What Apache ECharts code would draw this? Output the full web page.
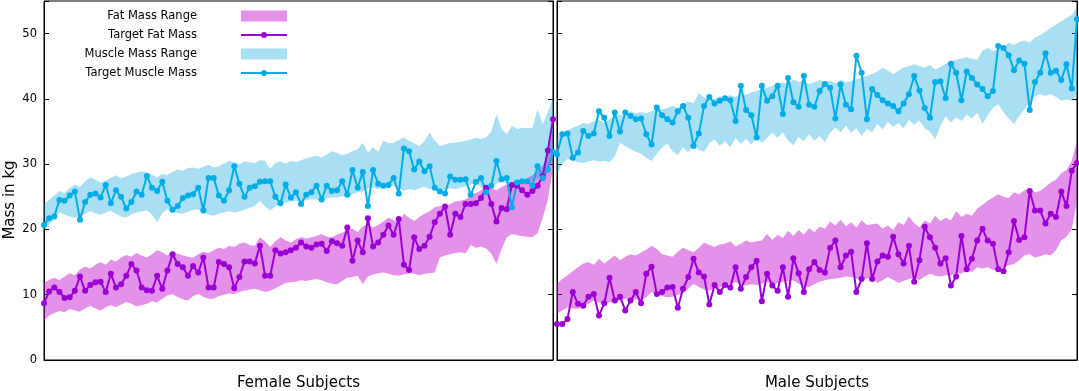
<!DOCTYPE html>
<html>
<head>
<meta charset="utf-8">
<script src="https://cdn.jsdelivr.net/npm/echarts@6/dist/echarts.min.js"></script>
<style>
html,body{margin:0;padding:0;background:#fff;}
#chart{width:1079px;height:391px;}
</style>
</head>
<body>
<div id="chart"></div>
<script>
// ---------------- DATA ----------------
const yTicks = [0, 10, 20, 30, 40, 50];

// Female subjects
const femaleFat = [8.7,10.5,11.1,10.4,9.5,9.6,10.6,12.8,10.6,11.5,11.9,12.0,10.4,13.2,11.1,11.6,12.9,14.7,13.7,11.1,10.7,
10.6,12.9,10.9,13.7,16.2,14.7,14.2,12.9,14.4,13.4,15.7,11.1,11.1,15.0,14.7,14.2,11.0,12.7,15.1,15.1,14.8,
17.5,12.9,12.9,16.8,16.3,16.5,16.8,17.2,18.0,17.4,17.2,17.7,17.8,16.7,18.2,17.9,17.5,20.3,15.2,18.3,
16.5,21.7,17.4,18.0,19.2,20.6,19.2,21.6,14.6,13.8,18.8,17.0,17.5,18.9,21.1,22.4,23.5,19.2,22.4,21.9,23.9,
23.9,24.0,24.8,26.4,23.9,21.2,23.3,23.1,26.8,26.7,26.0,25.3,25.9,26.7,28.2,32.1,36.9];
const femaleFatLo = [6.0,6.8,7.2,7.5,7.3,7.8,7.6,7.4,7.9,8.3,7.9,7.6,8.1,8.4,8.1,8.5,8.9,8.6,8.2,8.4,8.6,
9.0,8.8,9.4,9.9,10.1,9.6,9.3,9.1,9.8,10.1,9.7,9.4,9.4,9.8,10.0,10.2,10.1,10.4,10.6,10.8,10.9,
10.7,10.4,10.6,11.0,11.4,11.8,11.9,12.0,12.2,12.1,12.3,12.4,12.2,11.9,11.7,11.6,12.1,12.6,12.7,12.9,
11.6,12.8,13.1,13.3,13.4,13.2,13.0,12.9,13.1,13.3,13.2,13.0,13.2,13.3,13.4,15.7,16.0,16.2,16.4,16.5,16.3,
17.6,17.2,17.4,17.1,16.3,14.7,17.0,18.8,19.3,19.1,19.0,18.9,18.8,19.4,21.8,24.5,29.5];
const femaleFatHi = [11.8,12.3,12.6,12.2,12.8,13.3,13.0,13.9,14.3,14.0,14.6,15.0,14.6,15.4,15.1,15.7,16.1,15.8,16.4,16.0,15.7,
16.2,16.8,16.5,16.0,16.4,16.3,16.0,15.8,15.7,16.2,16.6,16.4,16.8,17.2,17.0,17.5,17.3,17.8,18.0,17.6,17.5,
18.8,18.2,17.3,18.2,18.8,18.3,18.0,18.5,18.8,18.6,18.8,19.0,19.3,18.9,18.8,19.2,19.5,19.9,20.1,19.6,
20.5,20.8,20.3,20.7,21.2,21.8,21.4,21.1,22.4,21.8,21.3,21.9,22.4,22.8,23.4,23.6,23.5,23.9,24.3,24.4,24.6,
25.2,25.6,26.0,26.6,26.4,26.0,26.5,26.9,27.2,27.5,27.4,27.9,28.3,29.0,29.8,31.5,35.5];
const femaleMuscle = [20.7,21.7,22.0,24.5,24.4,25.2,25.8,21.5,24.2,25.3,25.5,24.9,26.8,24.0,26.0,25.0,23.2,24.2,25.8,25.3,28.2,
26.4,25.9,27.3,24.4,23.0,23.6,24.8,25.2,25.4,26.4,22.9,27.9,27.9,25.2,24.4,26.0,29.7,27.0,25.0,26.4,26.6,
27.3,27.4,27.4,25.0,24.0,26.9,24.9,25.7,23.9,25.3,25.7,26.7,24.6,26.7,25.9,26.0,27.4,25.3,29.1,26.4,
28.8,23.6,29.1,27.0,26.7,26.8,27.9,25.5,32.4,32.0,29.2,30.4,28.9,29.7,26.4,25.8,25.5,28.1,27.6,27.6,27.7,
25.3,27.3,27.9,25.7,26.7,30.5,27.7,27.9,23.4,27.2,27.4,27.4,26.7,29.7,27.9,29.2,31.9];
const femaleMuscleLo = [19.9,20.8,21.6,22.6,22.3,22.0,21.8,21.9,22.4,22.8,22.5,22.2,22.6,22.9,22.4,22.0,21.8,22.3,22.6,22.8,22.9,
22.3,21.1,22.5,23.1,22.8,22.5,22.4,22.7,23.0,23.1,22.6,22.3,22.1,22.4,22.6,22.8,22.6,22.8,23.0,23.3,23.6,
24.4,23.5,22.9,23.5,23.9,24.1,24.3,24.4,24.2,24.5,24.6,24.6,24.4,24.8,24.9,24.9,25.1,25.0,25.4,25.7,
25.8,26.3,26.4,26.2,26.5,26.6,26.7,26.3,25.9,26.2,26.0,26.3,26.5,26.2,26.3,26.0,26.1,26.3,26.2,26.4,26.6,
26.9,27.0,26.5,25.9,26.6,27.0,27.3,27.1,27.0,27.2,27.0,27.3,27.4,27.8,28.5,29.5,31.0];
const femaleMuscleHi = [23.9,24.6,25.2,25.9,25.6,26.3,26.9,26.5,27.4,28.0,27.6,27.2,27.5,27.9,28.3,27.8,28.1,28.5,28.7,28.9,28.7,
28.4,28.0,28.5,28.3,28.8,29.2,29.0,29.4,29.5,29.3,29.6,29.9,29.5,29.7,30.1,30.5,30.3,30.0,30.4,30.3,30.2,
30.6,30.5,29.3,30.2,30.4,30.1,30.5,30.3,30.6,30.9,31.1,31.3,31.0,31.5,32.0,31.7,31.4,31.6,32.0,32.3,
33.3,31.8,32.6,31.9,33.6,33.2,33.3,33.7,34.1,33.6,33.2,32.8,33.5,34.8,33.6,32.8,33.0,33.3,33.3,33.4,33.6,
33.8,34.0,33.9,34.1,35.0,37.6,35.4,34.6,35.9,35.4,35.6,35.5,35.6,38.4,36.1,38.0,40.2];

// Male subjects
const maleFat = [5.5,5.5,6.3,10.4,8.6,8.3,9.7,10.1,6.8,8.7,12.6,9.1,9.7,7.6,9.1,10.4,8.7,13.2,14.3,10.1,10.4,
11.1,11.2,8.0,10.9,12.7,15.5,13.4,12.8,8.5,11.5,10.4,11.5,11.1,14.2,10.9,12.7,14.2,15.2,9.0,13.2,
11.4,10.6,14.2,9.7,15.6,13.3,10.4,13.9,15.0,13.8,13.4,17.2,18.3,14.2,16.0,16.6,10.4,12.4,17.9,12.4,
15.1,16.0,15.8,18.9,16.2,14.8,17.5,12.0,15.3,20.4,18.8,17.2,14.8,15.6,11.4,12.8,19.0,13.9,15.5,18.3,
20.1,18.3,17.8,13.9,13.6,16.5,21.3,18.4,18.8,25.9,22.9,22.9,20.9,22.4,21.9,25.8,23.6,29.0,30.2];
const maleFatLo = [7.1,7.6,8.1,7.9,7.8,8.3,8.6,9.1,8.8,8.5,8.9,8.8,9.2,9.4,9.0,9.3,9.1,9.6,10.4,10.0,9.8,
9.6,9.7,10.0,10.2,10.9,11.7,11.2,10.8,10.6,10.9,11.1,11.4,11.7,11.9,11.6,11.4,11.6,11.5,11.7,12.0,
11.5,11.8,12.0,12.1,12.2,11.7,11.3,11.2,11.6,12.0,12.2,12.4,12.5,12.6,12.8,12.7,12.5,12.3,12.5,12.7,
11.8,12.2,12.7,12.3,11.8,12.1,12.4,12.6,12.2,12.8,13.2,12.9,12.8,13.0,12.9,13.4,13.2,13.7,13.5,14.2,
14.0,14.2,13.8,13.7,14.2,14.5,14.7,15.3,16.0,16.2,15.7,15.9,16.2,16.0,16.8,18.3,18.9,20.0,24.4];
const maleFatHi = [11.7,12.4,13.0,13.6,14.2,14.8,15.0,14.6,15.5,14.8,15.4,16.0,15.3,15.8,16.2,16.0,16.5,16.9,17.5,17.0,16.2,
16.0,15.8,16.6,17.2,16.8,16.5,17.2,18.0,17.6,17.3,17.7,17.8,18.2,17.4,17.8,18.3,18.0,18.2,18.3,19.3,
18.4,19.2,18.7,19.8,19.0,19.9,19.2,20.2,19.6,20.4,20.1,21.2,20.6,21.5,20.5,21.1,20.3,21.4,20.7,20.8,
20.9,20.1,20.6,19.9,21.1,20.7,22.0,21.0,20.3,21.4,20.9,22.1,21.3,21.8,21.4,22.8,21.9,22.4,22.1,23.2,
23.8,24.4,24.9,25.4,25.0,24.8,25.7,25.4,26.0,26.2,25.7,25.9,26.5,27.2,27.6,28.6,29.1,30.5,33.6];
const maleMuscle = [31.5,34.6,34.7,31.0,31.8,35.1,34.3,34.7,38.1,37.1,34.3,37.9,35.0,37.9,37.4,36.9,37.0,34.6,33.0,38.7,37.5,
36.9,36.4,38.1,38.9,37.1,32.8,34.7,38.9,40.3,39.3,39.7,40.1,39.8,36.6,42.0,38.3,37.5,34.1,42.0,39.7,
40.4,42.0,37.7,43.2,39.5,38.8,43.5,39.1,38.8,41.2,42.3,41.7,37.0,42.2,39.1,38.4,46.6,44.0,36.9,41.5,
40.6,39.8,39.3,38.9,38.1,39.3,40.7,43.5,41.3,38.6,37.1,42.6,42.7,40.1,45.4,44.0,39.8,44.2,43.2,42.2,
41.5,40.4,41.2,48.1,47.8,46.7,44.4,45.9,45.4,38.3,42.6,44.0,47.0,44.0,44.3,42.9,45.3,41.6,52.2];
const maleMuscleLo = [28.5,30.0,30.8,30.6,30.3,30.2,30.4,30.6,30.4,30.5,30.3,31.2,33.3,32.8,32.3,31.9,31.6,31.0,30.5,31.6,32.5,
33.2,32.0,31.4,32.6,31.8,33.1,32.2,31.9,33.2,33.8,32.8,33.5,32.6,34.0,33.1,33.9,33.0,34.1,33.2,34.1,
34.8,34.0,34.9,33.6,32.9,34.2,33.5,34.6,33.6,34.3,33.4,34.8,35.6,34.9,35.9,34.8,35.5,34.3,35.4,34.9,
36.2,35.3,36.5,35.7,36.3,35.5,36.8,36.0,36.7,35.5,35.0,33.8,35.9,37.4,36.4,37.2,36.6,37.6,37.0,37.9,
36.1,37.5,38.6,39.2,38.0,37.0,36.1,37.4,38.4,39.5,40.4,40.7,40.5,40.7,40.3,39.7,39.9,39.7,40.7];
const maleMuscleHi = [34.1,34.7,35.2,35.6,35.9,36.3,36.1,36.6,36.8,36.3,36.9,37.3,37.6,37.4,38.1,37.8,38.0,37.8,38.1,38.4,38.4,
38.6,38.9,38.6,39.2,39.6,39.3,40.9,40.2,39.8,40.0,40.4,40.2,40.6,40.3,40.9,40.6,41.0,41.2,41.5,41.7,
42.0,42.4,42.5,42.2,43.0,42.6,42.8,42.3,42.5,42.9,42.6,42.8,42.4,42.9,42.6,42.7,43.0,43.3,43.5,43.8,
44.2,44.8,44.3,43.8,44.3,44.8,45.0,45.3,45.0,44.8,45.2,44.5,44.9,45.4,45.8,46.0,46.2,46.4,46.1,46.0,
47.4,47.8,47.3,47.6,48.0,48.6,48.3,48.7,48.9,48.6,49.4,49.8,50.3,50.9,51.4,51.9,52.4,52.9,54.2];

const femaleSubjects = femaleFat.map((_, i) => 'F' + (i + 1));
const maleSubjects = maleFat.map((_, i) => 'M' + (i + 1));

const legendLabels = ['Fat Mass Range', 'Target Fat Mass', 'Muscle Mass Range', 'Target Muscle Mass'];
const panelTitles = ['Female Subjects', 'Male Subjects'];

// ---------------- STYLE ----------------
const FONT = 'DejaVu Sans';
const FAT_LINE = '#9a00d4';
const FAT_BAND = 'rgba(190,0,205,0.43)';
const MUS_LINE = '#00ade6';
const MUS_BAND = 'rgba(0,160,225,0.34)';

const chart = echarts.init(document.getElementById('chart'), null, {renderer: 'canvas'});

function diff(hi, lo) { return hi.map((v, i) => +(v - lo[i]).toFixed(3)); }

function bandSeries(idx, lo, hi, color, key) {
  return [
    {type: 'line', xAxisIndex: idx, yAxisIndex: idx * 2, data: lo, stack: key + idx,
     symbol: 'none', lineStyle: {width: 0, opacity: 0}, silent: true},
    {type: 'line', xAxisIndex: idx, yAxisIndex: idx * 2, data: diff(hi, lo), stack: key + idx,
     symbol: 'none', lineStyle: {width: 0, opacity: 0}, areaStyle: {color: color, opacity: 1}, silent: true}
  ];
}
function targetSeries(idx, data, color) {
  return {type: 'line', xAxisIndex: idx, yAxisIndex: idx * 2, data: data,
    symbol: 'circle', symbolSize: 6, showSymbol: true, showAllSymbol: true,
    lineStyle: {width: 2, color: color}, itemStyle: {color: color}};
}

const grids = [
  {left: 44, top: 1, width: 509, bottom: 31, show: true, borderColor: '#000', borderWidth: 1,
   containLabel: false, outerBoundsMode: 'none'},
  {left: 557, top: 1, width: 520, bottom: 31, show: true, borderColor: '#000', borderWidth: 1,
   containLabel: false, outerBoundsMode: 'none'}
];

function xAxisFor(i, cats) {
  return {type: 'category', gridIndex: i, data: cats, boundaryGap: false,
    axisLine: {show: true, lineStyle: {color: '#000', width: 1}},
    axisTick: {show: false}, axisLabel: {show: false}, splitLine: {show: false},
    name: panelTitles[i], nameLocation: 'middle', nameGap: 16,
    nameTextStyle: {fontFamily: FONT, fontSize: 15, color: '#000'}};
}
function yAxisFor(i, side, labels) {
  return {type: 'value', gridIndex: i, position: side, min: 0, max: 55, interval: 10,
    axisLine: {show: true, lineStyle: {color: '#000', width: 1}},
    axisTick: {show: true, inside: true, length: 5, lineStyle: {color: '#000'}},
    axisLabel: {show: labels, fontFamily: FONT, fontSize: 11.5, color: '#000', margin: 7,
      formatter: v => (yTicks.indexOf(v) >= 0) ? String(v) : ''},
    splitLine: {show: false}};
}

const series = [];
[[femaleFat, femaleFatLo, femaleFatHi, femaleMuscle, femaleMuscleLo, femaleMuscleHi],
 [maleFat, maleFatLo, maleFatHi, maleMuscle, maleMuscleLo, maleMuscleHi]].forEach((d, i) => {
  series.push(...bandSeries(i, d[1], d[2], FAT_BAND, 'fat'));
  series.push(targetSeries(i, d[0], FAT_LINE));
  series.push(...bandSeries(i, d[4], d[5], MUS_BAND, 'mus'));
  series.push(targetSeries(i, d[3], MUS_LINE));
});

// legend drawn as graphics (gnuplot-style key: text right-aligned, sample on the right)
const legendRows = [16, 35, 54, 73];
const legendGraphics = [];
legendLabels.forEach((t, k) => {
  legendGraphics.push({type: 'text', x: 197, y: legendRows[k],
    style: {text: t, fontFamily: FONT, fontSize: 11.5, fill: '#000', align: 'right', verticalAlign: 'middle'}});
});
legendGraphics.push({type: 'rect', shape: {x: 241, y: legendRows[0] - 5.5, width: 46, height: 11}, style: {fill: FAT_BAND}});
legendGraphics.push({type: 'line', shape: {x1: 241, y1: legendRows[1], x2: 287, y2: legendRows[1]}, style: {stroke: FAT_LINE, lineWidth: 2}});
legendGraphics.push({type: 'circle', shape: {cx: 264, cy: legendRows[1], r: 3}, style: {fill: FAT_LINE}});
legendGraphics.push({type: 'rect', shape: {x: 241, y: legendRows[2] - 5.5, width: 46, height: 11}, style: {fill: MUS_BAND}});
legendGraphics.push({type: 'line', shape: {x1: 241, y1: legendRows[3], x2: 287, y2: legendRows[3]}, style: {stroke: MUS_LINE, lineWidth: 2}});
legendGraphics.push({type: 'circle', shape: {cx: 264, cy: legendRows[3], r: 3}, style: {fill: MUS_LINE}});
legendGraphics.push({type: 'text', x: 10, y: 200, rotation: Math.PI / 2,
  style: {text: 'Mass in kg', fontFamily: FONT, fontSize: 15, fill: '#000', align: 'center', verticalAlign: 'middle'}});

chart.setOption({
  animation: false,
  backgroundColor: '#fff',
  grid: grids,
  xAxis: [xAxisFor(0, femaleSubjects), xAxisFor(1, maleSubjects)],
  yAxis: [yAxisFor(0, 'left', true), yAxisFor(0, 'right', false),
          yAxisFor(1, 'left', false), yAxisFor(1, 'right', false)],
  series: series,
  graphic: legendGraphics
});
</script>
</body>
</html>
